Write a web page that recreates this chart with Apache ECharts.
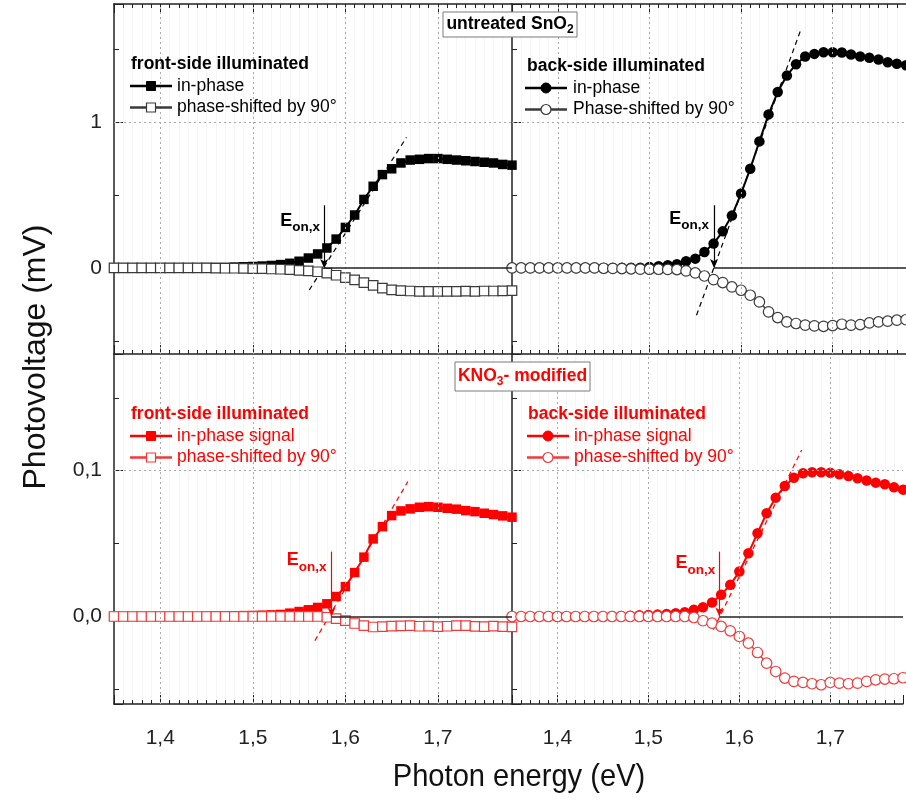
<!DOCTYPE html>
<html>
<head>
<meta charset="utf-8">
<script src="https://cdn.jsdelivr.net/npm/echarts@6.0.0/dist/echarts.min.js"></script>
<style>
html, body { margin: 0; padding: 0; background: #fff; }
#main { width: 906px; height: 801px; }
</style>
</head>
<body>
<div id="main"></div>
<script>
// photon energy (eV), one point every 0.01 eV
var energy = [1.35, 1.36, 1.37, 1.38, 1.39, 1.40, 1.41, 1.42, 1.43, 1.44, 1.45,
  1.46, 1.47, 1.48, 1.49, 1.50, 1.51, 1.52, 1.53, 1.54, 1.55, 1.56, 1.57, 1.58,
  1.59, 1.60, 1.61, 1.62, 1.63, 1.64, 1.65, 1.66, 1.67, 1.68, 1.69, 1.70, 1.71,
  1.72, 1.73, 1.74, 1.75, 1.76, 1.77, 1.78];

// untreated SnO2, front side (mV)
var untreatedFrontIn = [0, 0, 0, 0, 0, 0, 0, 0, 0.001, 0.001, 0.002,
  0.003, 0.004, 0.006, 0.008, 0.01, 0.013, 0.017, 0.023, 0.032, 0.046,
  0.068, 0.096, 0.137, 0.198, 0.278, 0.363, 0.47, 0.56, 0.64, 0.68,
  0.72, 0.74, 0.745, 0.75, 0.75, 0.745, 0.74, 0.735, 0.73, 0.725,
  0.72, 0.71, 0.705];
var untreatedFrontShift = [0, 0, 0, 0, 0, 0, 0, 0, 0, 0, 0,
  -0.001, -0.002, -0.002, -0.003, -0.004, -0.005, -0.007, -0.009, -0.012, -0.016,
  -0.02, -0.026, -0.035, -0.05, -0.066, -0.082, -0.1, -0.12, -0.138, -0.15,
  -0.155, -0.158, -0.16, -0.16, -0.161, -0.16, -0.16, -0.159, -0.16, -0.158,
  -0.158, -0.157, -0.156];

// untreated SnO2, back side (mV)
var untreatedBackIn = [0, 0, 0, 0, 0, 0, 0, 0, 0, 0, 0, 0, 0.001, 0.001,
  0.002, 0.007, 0.012, 0.018, 0.025, 0.046, 0.064, 0.11, 0.167, 0.251,
  0.359, 0.51, 0.68, 0.868, 1.053, 1.206, 1.319, 1.397, 1.45, 1.468,
  1.479, 1.479, 1.477, 1.464, 1.45, 1.441, 1.43, 1.411, 1.4, 1.39];
var untreatedBackShift = [0, 0, 0, 0, 0, 0, 0, 0, 0, 0, -0.002, -0.003, -0.004, -0.006,
  -0.008, -0.009, -0.009, -0.01, -0.011, -0.02, -0.034, -0.055, -0.08, -0.1,
  -0.13, -0.153, -0.187, -0.233, -0.301, -0.34, -0.37, -0.381, -0.392, -0.397,
  -0.4, -0.395, -0.386, -0.392, -0.388, -0.377, -0.37, -0.365, -0.358, -0.355];

// KNO3-modified, front side (mV)
var modifiedFrontIn = [0, 0, 0, 0, 0, 0, 0, 0, 0, 0, 0.0002, 0.0003, 0.0004,
  0.0005, 0.0006, 0.0007, 0.0009, 0.0011, 0.0014, 0.0023, 0.0034, 0.0046, 0.0062,
  0.0087, 0.0137, 0.0205, 0.0301, 0.0407, 0.0532, 0.0616, 0.0692, 0.0724, 0.0738,
  0.0749, 0.0753, 0.0749, 0.0742, 0.0736, 0.0726, 0.0719, 0.0708, 0.0699, 0.069, 0.0681];
var modifiedFrontShift = [0, 0, 0, 0, 0, 0, 0, 0, 0, 0, 0, 0, 0, 0, 0, 0, 0, 0, 0, 0, 0, 0, 0,
  -0.0005, -0.0015, -0.0028, -0.0048, -0.0063, -0.0072, -0.007, -0.0066, -0.0064, -0.0063,
  -0.0067, -0.0066, -0.007, -0.0067, -0.0063, -0.0062, -0.0068, -0.007, -0.0066, -0.007, -0.0071];

// KNO3-modified, back side (mV)
var modifiedBackIn = [0, 0, 0, 0, 0, 0, 0, 0, 0, 0, 0.0002, 0.0003, 0.0004, 0.0006, 0.0008,
  0.001, 0.0013, 0.0017, 0.0023, 0.003, 0.0046, 0.0064, 0.0096, 0.0149, 0.0217,
  0.0308, 0.0434, 0.0571, 0.0708, 0.0815, 0.0895, 0.0952, 0.0982, 0.0989, 0.0989,
  0.0986, 0.0975, 0.0964, 0.0948, 0.0932, 0.0918, 0.0907, 0.0886, 0.087];
var modifiedBackShift = [0, 0, 0, 0, 0, 0, 0, 0, 0, 0, 0, 0, 0, 0, 0, 0, 0, 0, 0, 0,
  -0.0007, -0.0029, -0.0046, -0.0068, -0.0098, -0.0137, -0.0183, -0.0247, -0.032, -0.0377,
  -0.0422, -0.0445, -0.0452, -0.0461, -0.0468, -0.0452, -0.0457, -0.0461, -0.0457, -0.0445,
  -0.0434, -0.0429, -0.0427, -0.042];

// tangent lines [[E, mV], [E, mV]] and onset energies with arrow tops
var tangentUntreatedFront = [[1.561, -0.151], [1.666, 0.895]];
var tangentUntreatedBack = [[1.5514, -0.324], [1.665, 1.63]];
var tangentModifiedFront = [[1.567, -0.0166], [1.6675, 0.0925]];
var tangentModifiedBack = [[1.5713, -0.0091], [1.6686, 0.1142]];
var onsetEnergy = [1.577, 1.5705, 1.585, 1.578];
var onsetArrowTop = [0.43, 0.43, 0.0445, 0.0445];

// axis ranges and labelled values
var energyRange = [1.35, 1.78];
var untreatedRange = [-0.59, 1.81];
var modifiedRange = [-0.06, 0.18];
var energyGrid = [1.4, 1.5, 1.6, 1.7];

var FONT = "'Liberation Sans', Arial, sans-serif";
var RED = '#ff0000';
var RED_OPEN = '#f03a3a';

var myChart = echarts.init(document.getElementById('main'));

var grids = [
    {left: 114, top: 4, width: 398, height: 350},
    {left: 512, top: 4, width: 398, height: 350},
    {left: 114, top: 354, width: 398, height: 350},
    {left: 512, top: 354, width: 398, height: 350}
];

function near(a, b) { return Math.abs(a - b) < 1e-9; }

function fmtEnergy(v) {
    var t = Math.round(v * 10);
    return near(v * 10, t) ? (t / 10).toFixed(1).replace('.', ',') : '';
}
function fmtTop(v) { return near(v, 1) ? '1' : near(v, 0) ? '0' : ''; }
function fmtBottom(v) { return near(v, 0.1) ? '0,1' : near(v, 0) ? '0,0' : ''; }

function makeX(gi, pos, labels, minorGrid) {
    return {
        type: 'value', gridIndex: gi, position: pos,
        min: energyRange[0], max: energyRange[1], splitNumber: 5,
        axisLine: {onZero: false, lineStyle: {color: '#222', width: 1.5}},
        axisTick: {inside: true, length: 9, lineStyle: {color: '#222'}},
        minorTick: {show: true, splitNumber: 10, length: 4, lineStyle: {color: '#222'}},
        splitLine: {show: false},
        minorSplitLine: {show: minorGrid, lineStyle: {color: '#f5f5f5', width: 1}},
        axisLabel: {show: labels, margin: 24, fontFamily: FONT, fontSize: 21,
            color: '#222', formatter: fmtEnergy}
    };
}

function makeY(gi, range, fmt, labels) {
    return {
        type: 'value', gridIndex: gi, min: range[0], max: range[1], splitNumber: 3,
        axisLine: {onZero: false, lineStyle: {color: '#222', width: 1.5}},
        axisTick: {inside: true, length: 9, lineStyle: {color: '#222'}},
        minorTick: {show: true, splitNumber: 2, length: 5, lineStyle: {color: '#222'}},
        splitLine: {show: false},
        axisLabel: {show: labels, margin: 12, fontFamily: FONT, fontSize: 21,
            color: '#222', formatter: fmt}
    };
}

function pairs(values) {
    return energy.map(function (e, i) { return [e, values[i]]; });
}

var panels = [
    {inPhase: untreatedFrontIn, shifted: untreatedFrontShift, tangent: tangentUntreatedFront,
     symbol: 'rect', size: 9.5, color: '#000', open: '#3a3a3a', gridY: 1},
    {inPhase: untreatedBackIn, shifted: untreatedBackShift, tangent: tangentUntreatedBack,
     symbol: 'circle', size: 10.5, color: '#000', open: '#3a3a3a', gridY: 1},
    {inPhase: modifiedFrontIn, shifted: modifiedFrontShift, tangent: tangentModifiedFront,
     symbol: 'rect', size: 9.5, color: RED, open: RED_OPEN, gridY: 0.1},
    {inPhase: modifiedBackIn, shifted: modifiedBackShift, tangent: tangentModifiedBack,
     symbol: 'circle', size: 10.5, color: RED, open: RED_OPEN, gridY: 0.1}
];

var series = [];
panels.forEach(function (p, gi) {
    var gridLines = energyGrid.map(function (v) { return {xAxis: v}; });
    gridLines.push({yAxis: p.gridY});
    series.push({
        type: 'line', xAxisIndex: gi, yAxisIndex: gi, data: p.tangent,
        symbol: 'none', z: 1, silent: true,
        lineStyle: {color: p.color, width: 1.2, type: [5, 4]},
        markLine: {silent: true, symbol: 'none', label: {show: false}, animation: false,
            lineStyle: {color: '#a8a8a8', width: 1, type: [2, 3]}, data: gridLines}
    });
    series.push({
        type: 'line', xAxisIndex: gi, yAxisIndex: gi, data: pairs(p.inPhase),
        symbol: p.symbol, symbolSize: p.size, showAllSymbol: true, z: 2,
        itemStyle: {color: p.color},
        lineStyle: {color: p.color, width: 2}
    });
    series.push({
        type: 'line', xAxisIndex: gi, yAxisIndex: gi, data: pairs(p.shifted),
        symbol: p.symbol, symbolSize: p.size, showAllSymbol: true, z: 3,
        itemStyle: {color: '#fff', borderColor: p.open, borderWidth: 1.2},
        lineStyle: {color: p.open, width: 1.5},
        markLine: {silent: true, label: {show: false}, animation: false,
            symbol: ['none', 'arrow'], symbolSize: [6, 9],
            lineStyle: {color: p.color, width: 1.2, type: 'solid'},
            data: [
                [{coord: [onsetEnergy[gi], onsetArrowTop[gi]]}, {coord: [onsetEnergy[gi], 0]}],
                [{coord: [onsetEnergy[gi], 0], symbol: 'none', lineStyle: {color: '#222', width: 1.5}},
                 {coord: [energyRange[1], 0], symbol: 'none'}]
            ]}
    });
});

option = {
    backgroundColor: '#fff',
    animation: false,
    grid: grids,
    xAxis: [
        makeX(0, 'bottom', false, true), makeX(1, 'bottom', false, true),
        makeX(2, 'bottom', true, true), makeX(3, 'bottom', true, true),
        makeX(0, 'top', false, false), makeX(1, 'top', false, false)
    ],
    yAxis: [
        makeY(0, untreatedRange, fmtTop, true), makeY(1, untreatedRange, fmtTop, false),
        makeY(2, modifiedRange, fmtBottom, true), makeY(3, modifiedRange, fmtBottom, false)
    ],
    series: series
};
myChart.setOption(option);

// ---- annotations (texts, legends, boxes) ----
var measureCtx = document.createElement('canvas').getContext('2d');
function textWidth(text, font) { measureCtx.font = font; return measureCtx.measureText(text).width; }
function fontOf(size, bold) { return (bold ? 'bold ' : '') + size + 'px ' + FONT; }
function txt(x, y, text, font, color, align) {
    return {type: 'text', x: x, y: y, z: 100, silent: true,
        style: {text: text, font: font, fill: color, textAlign: align || 'left', textVerticalAlign: 'middle'}};
}

var g = [];

// text pieces [string, isSubscript]
function subText(x, y, pieces, size, subSize, color) {
    var cx = x;
    pieces.forEach(function (pc) {
        var f = fontOf(pc[1] ? subSize : size, true);
        g.push(txt(cx, pc[1] ? y + 5 : y, pc[0], f, color));
        cx += textWidth(pc[0], f);
    });
    return cx - x;
}

function box(cx, cy, w, h, pieces, color) {
    g.push({type: 'rect', z: 99, silent: true, shape: {x: cx - w / 2, y: cy - h / 2, width: w, height: h},
        style: {fill: '#fff', stroke: '#7a7a7a', lineWidth: 1}});
    var total = 0;
    pieces.forEach(function (pc) { total += textWidth(pc[0], fontOf(pc[1] ? 12 : 17.5, true)); });
    subText(cx - total / 2, cy, pieces, 17.5, 12, color);
}
box(510, 24.5, 134, 25, [['untreated SnO', false], ['2', true]], '#000');
box(522.5, 376.5, 135, 29, [['KNO', false], ['3', true], ['- modified', false]], RED);

// legends
var legends = [
    {x: 131, y: 64, title: 'front-side illuminated', rows: ['in-phase', 'phase-shifted by 90°'], lx: 130},
    {x: 527, y: 66, title: 'back-side illuminated', rows: ['in-phase', 'Phase-shifted by 90°'], lx: 525},
    {x: 131, y: 414, title: 'front-side illuminated', rows: ['in-phase signal', 'phase-shifted by 90°'], lx: 130},
    {x: 528, y: 414, title: 'back-side illuminated', rows: ['in-phase signal', 'phase-shifted by 90°'], lx: 527}
];
legends.forEach(function (L, i) {
    var p = panels[i];
    g.push(txt(L.x, L.y, L.title, fontOf(17.5, true), p.color));
    L.rows.forEach(function (r, k) {
        var y = L.y + 22 + k * 21.5;
        var filled = k === 0;
        var lc = filled ? p.color : p.open;
        g.push({type: 'line', z: 100, silent: true, shape: {x1: L.lx, y1: y, x2: L.lx + 42, y2: y},
            style: {stroke: lc, lineWidth: 2.5}});
        var mc = L.lx + 21;
        var mstyle = filled ? {fill: p.color, stroke: p.color, lineWidth: 1}
                            : {fill: '#fff', stroke: p.open, lineWidth: 1.2};
        if (p.symbol === 'rect') {
            g.push({type: 'rect', z: 101, silent: true, shape: {x: mc - 4.5, y: y - 4.5, width: 9, height: 9}, style: mstyle});
        } else {
            g.push({type: 'circle', z: 101, silent: true, shape: {cx: mc, cy: y, r: 5}, style: mstyle});
        }
        g.push(txt(L.x + 46, y, r, fontOf(17.5, false), p.color));
    });
});

// onset labels next to the arrows
var onsetLabelOffset = [[-4, -41], [-5, -43], [-5, -50], [-4, -47]];
panels.forEach(function (p, i) {
    var pt = myChart.convertToPixel({gridIndex: i}, [onsetEnergy[i], 0]);
    var right = pt[0] + onsetLabelOffset[i][0];
    var base = pt[1] + onsetLabelOffset[i][1];
    var fE = fontOf(18, true), fS = fontOf(13.5, true);
    var wS = textWidth('on,x', fS), wE = textWidth('E', fE);
    g.push(txt(right - wS - wE, base - 6.3, 'E', fE, p.color));
    g.push(txt(right - wS, base + 0.3, 'on,x', fS, p.color));
});

// axis titles (x title squeezed horizontally like a narrow face)
var xt = txt(519, 777, 'Photon energy (eV)', '32px ' + FONT, '#111', 'center');
xt.scaleX = 0.91;
xt.originX = 519;
xt.originY = 777;
xt.x = 0; xt.y = 0;
xt.style.x = 519; xt.style.y = 777;
g.push(xt);
var yt = txt(36, 357, 'Photovoltage (mV)', '32px ' + FONT, '#111', 'center');
yt.rotation = Math.PI / 2;
g.push(yt);

myChart.setOption({graphic: g});
</script>
</body>
</html>
